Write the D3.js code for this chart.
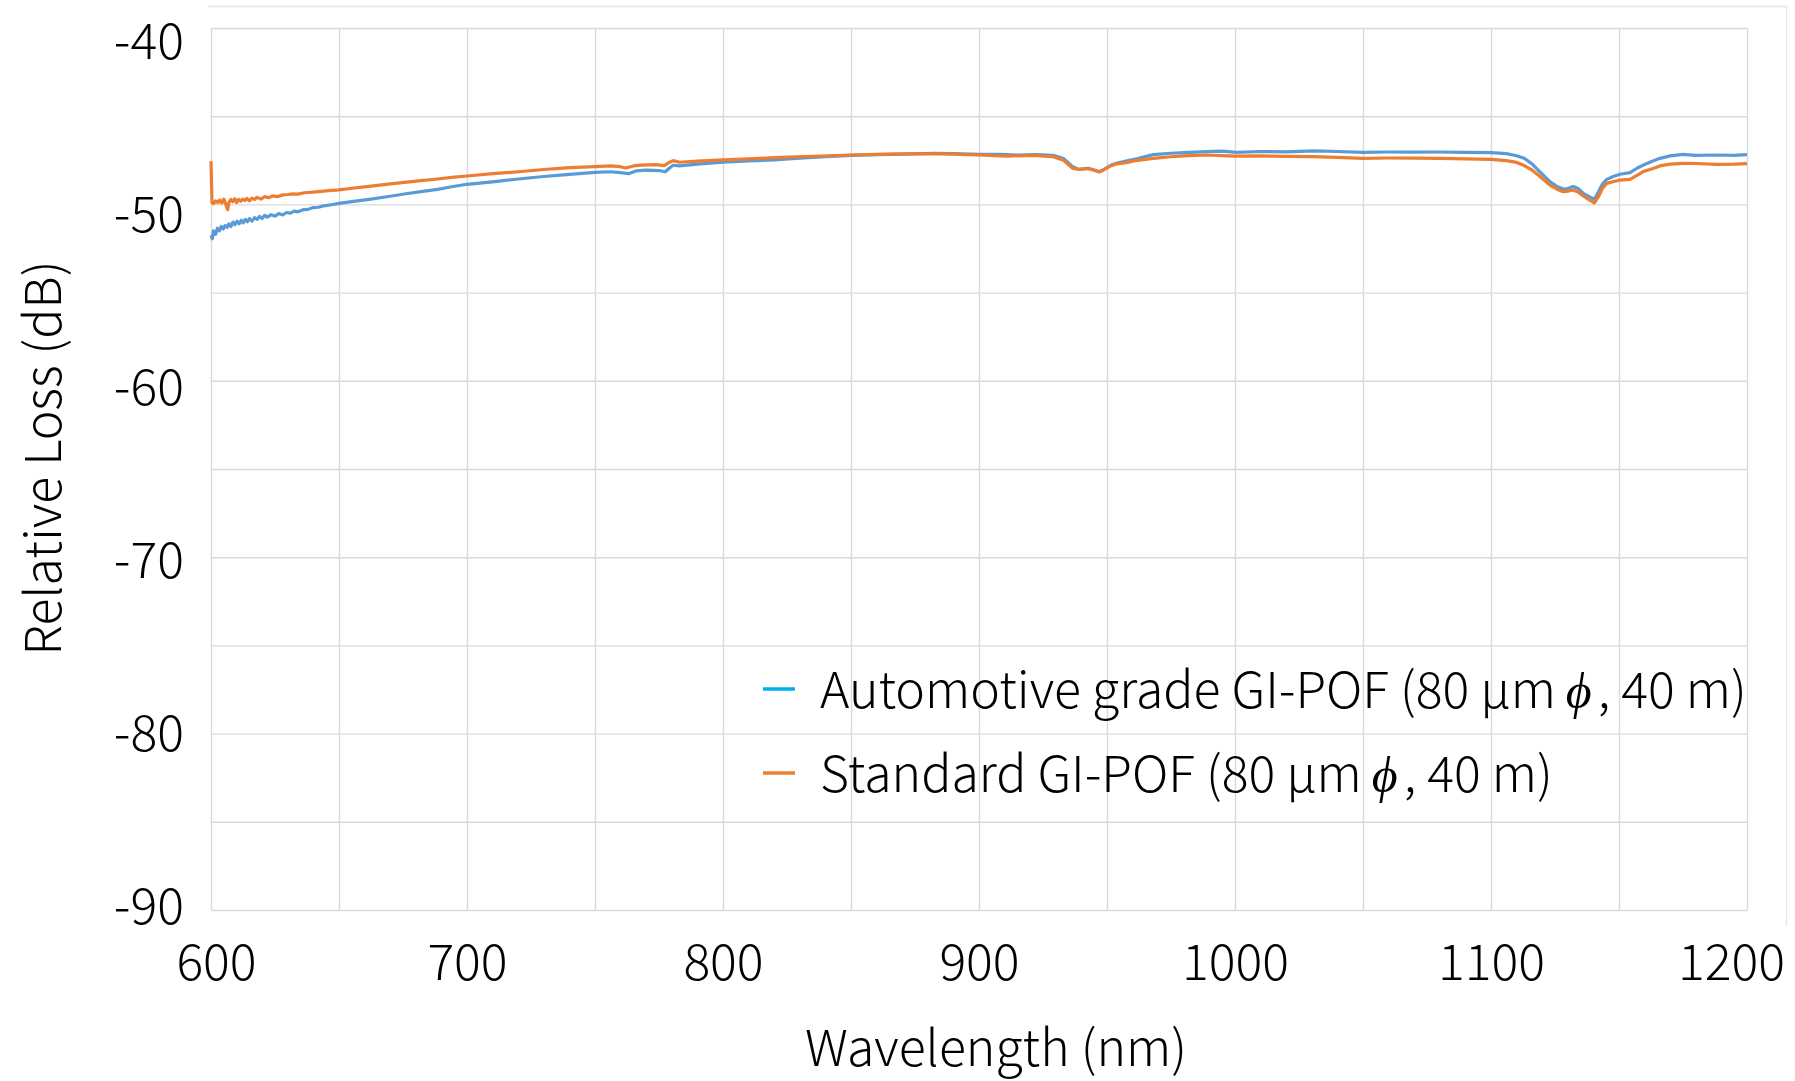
<!DOCTYPE html>
<html>
<head>
<meta charset="utf-8">
<script src="https://cdn.jsdelivr.net/npm/d3@7"></script>
<style>
  html, body { margin: 0; padding: 0; background: #fff; }
  svg { display: block; }
  text { font-family: "Noto Sans CJK JP", "Noto Sans", sans-serif; font-weight: 300; fill: #000; }
</style>
</head>
<body>
<svg id="chart" width="1795" height="1081"></svg>
<script>
// ---------- DATA ----------
const xTicks = [600, 700, 800, 900, 1000, 1100, 1200];
const yTicks = [-40, -50, -60, -70, -80, -90];
const seriesNames = [
  "Automotive grade GI-POF (80 μmϕ, 40 m)",
  "Standard GI-POF (80 μmϕ, 40 m)"
];

const autoWl = [600,600.5,601,601.8,602.5,603.3,604,604.8,605.5,606.3,607,607.8,608.6,609.4,610.2,611,611.8,612.6,613.4,614.2,615,616,617,618,619,620,621,622,623.5,625,626.5,628,629.5,631,632.5,634,636,638,640,642,644,647,650,655,662.5,670,675.5,682,688.5,694,700,710,720,730,740,750,756,760,763,766,770,775,777.5,779,780.5,783,790,800,810,820,830,840,850,860,870,883,890,900,908,915,922,929,933,936.6,938.9,942.6,945,947,949,951.6,954,957.4,962,968,975,980,988.9,995,1000.6,1010,1020,1030.8,1040,1050,1060,1070,1080,1090,1100,1106,1110,1113,1116,1119,1123,1126,1128.2,1130,1132.1,1134,1136,1138.4,1140.4,1142,1143.5,1145.2,1148,1150.4,1154.3,1157,1159.5,1163,1166,1170,1175,1180,1188,1195,1200];
const autoDb = [-51.75,-51.95,-51.5,-51.7,-51.35,-51.5,-51.25,-51.4,-51.2,-51.3,-51.1,-51.25,-51.0,-51.15,-50.95,-51.1,-50.9,-51.05,-50.85,-50.98,-50.8,-50.95,-50.75,-50.85,-50.68,-50.8,-50.62,-50.72,-50.58,-50.66,-50.52,-50.6,-50.46,-50.5,-50.38,-50.42,-50.3,-50.28,-50.18,-50.16,-50.08,-50.02,-49.94,-49.84,-49.7,-49.54,-49.41,-49.28,-49.15,-49.0,-48.86,-48.72,-48.56,-48.42,-48.3,-48.18,-48.15,-48.2,-48.26,-48.1,-48.06,-48.08,-48.15,-47.95,-47.78,-47.82,-47.72,-47.61,-47.54,-47.48,-47.38,-47.3,-47.22,-47.18,-47.15,-47.1,-47.12,-47.16,-47.16,-47.2,-47.18,-47.22,-47.4,-47.86,-48.01,-47.96,-48.05,-48.14,-48.0,-47.77,-47.65,-47.54,-47.4,-47.18,-47.1,-47.06,-47.01,-46.98,-47.05,-47.0,-47.02,-46.97,-47.0,-47.05,-47.03,-47.04,-47.03,-47.05,-47.07,-47.12,-47.24,-47.39,-47.7,-48.14,-48.71,-49.0,-49.13,-49.1,-48.99,-49.1,-49.37,-49.56,-49.71,-49.28,-48.85,-48.58,-48.4,-48.29,-48.2,-47.95,-47.77,-47.55,-47.39,-47.25,-47.16,-47.22,-47.2,-47.22,-47.18];

const stdWl = [600,600.4,601,601.8,602.6,603.4,604.2,605,605.8,606.5,607,607.8,608.5,609.3,610,610.8,611.6,612.4,613.2,614,615,616,617,618,619.5,621,622.5,624,626,628,630,632,634,636.5,640,643,646,650,656,662.5,670,675.5,682,688.5,694,700,710,720,730,740,750,756,759,762,765,768,774,777,779,780.5,783,790,800,810,820,835,850,860,872,885,900,910.8,921,929,933,936.6,939,942.6,945,947,949,951.6,954,957.4,962,968,975,980,989,1000,1010,1020,1030,1040,1050,1060,1070,1080,1090,1100,1106,1110,1113,1116,1119,1123,1126,1128.2,1130,1132.1,1134,1136,1138.4,1140.4,1142,1143.5,1145.2,1148,1150.4,1154.3,1157,1159.5,1163,1166,1170,1175,1180,1188,1195,1200];
const stdDb = [-47.55,-49.9,-49.95,-49.8,-49.9,-49.75,-49.92,-49.7,-50.0,-50.3,-49.9,-49.72,-49.85,-49.68,-49.9,-49.72,-49.82,-49.7,-49.78,-49.66,-49.8,-49.64,-49.72,-49.6,-49.7,-49.56,-49.62,-49.52,-49.56,-49.46,-49.44,-49.4,-49.42,-49.34,-49.3,-49.26,-49.22,-49.18,-49.07,-48.96,-48.84,-48.75,-48.65,-48.56,-48.47,-48.39,-48.26,-48.15,-48.02,-47.92,-47.86,-47.82,-47.84,-47.94,-47.82,-47.77,-47.75,-47.8,-47.62,-47.52,-47.61,-47.55,-47.48,-47.42,-47.35,-47.27,-47.2,-47.16,-47.14,-47.14,-47.2,-47.26,-47.22,-47.3,-47.5,-47.96,-48.02,-47.96,-48.06,-48.16,-48.02,-47.8,-47.7,-47.63,-47.5,-47.39,-47.3,-47.25,-47.2,-47.26,-47.25,-47.28,-47.29,-47.33,-47.39,-47.37,-47.38,-47.39,-47.42,-47.45,-47.52,-47.62,-47.8,-48.05,-48.4,-48.9,-49.15,-49.28,-49.25,-49.18,-49.3,-49.52,-49.75,-49.92,-49.56,-49.1,-48.81,-48.7,-48.62,-48.58,-48.35,-48.14,-47.98,-47.82,-47.72,-47.67,-47.68,-47.73,-47.72,-47.69];

// ---------- LAYOUT ----------
const svg = d3.select("#chart");
const L = 211, T = 28, R = 1747, B = 910;
const FS = 50;
const gridColor = "#D9D9D9";

const x = d3.scaleLinear().domain([600, 1200]).range([L, R]);
const y = d3.scaleLinear().domain([-40, -90]).range([T, B]);
// tick label placement (Excel spaces labels slightly tighter than gridlines)
const yLab = d3.scaleLinear().domain([-40, -90]).range([41, 906]);

// outer chart frame fragments
svg.append("line").attr("x1", 208).attr("x2", 1787).attr("y1", 6.5).attr("y2", 6.5)
  .attr("stroke", "#E6E6E6").attr("stroke-width", 1.3);
svg.append("line").attr("x1", 1786.5).attr("x2", 1786.5).attr("y1", 6.5).attr("y2", 926)
  .attr("stroke", "#E6E6E6").attr("stroke-width", 1.3);

// gridlines
const xGrid = d3.range(600, 1201, 50);
const yGrid = d3.range(-40, -91, -5);
svg.append("g").attr("transform", `translate(0,${B})`)
  .call(d3.axisBottom(x).tickValues(xGrid).tickSize(-(B - T)).tickFormat(""))
  .call(g => g.select(".domain").remove())
  .call(g => g.selectAll("line").attr("stroke", gridColor).attr("stroke-width", 1.4));
svg.append("g").attr("transform", `translate(${L},0)`)
  .call(d3.axisLeft(y).tickValues(yGrid).tickSize(-(R - L)).tickFormat(""))
  .call(g => g.select(".domain").remove())
  .call(g => g.selectAll("line").attr("stroke", gridColor).attr("stroke-width", 1.4));

// y tick labels
svg.append("g").attr("transform", `translate(${L},0)`)
  .call(d3.axisLeft(yLab).tickValues(yTicks).tickSize(0).tickPadding(27).tickFormat(d => String(d)))
  .call(g => g.select(".domain").remove())
  .call(g => g.selectAll("text").attr("font-size", FS).attr("font-family", null).attr("dy", "0.35em"));

// x tick labels
svg.append("g").attr("transform", `translate(0,${B})`)
  .call(d3.axisBottom(x).tickValues(xTicks).tickSize(0).tickPadding(0).tickFormat(d => String(d)))
  .call(g => g.select(".domain").remove())
  .call(g => g.selectAll("text").attr("font-size", FS).attr("font-family", null)
      .attr("y", 70).attr("dy", 0)
      .attr("dx", d => d === 600 ? 5 : (d === 1200 ? -16 : 0)));

// axis titles
svg.append("text").attr("x", 996).attr("y", 1066).attr("text-anchor", "middle")
  .attr("font-size", FS).text("Wavelength (nm)");
svg.append("text").attr("transform", "translate(61,458) rotate(-90)").attr("text-anchor", "middle")
  .attr("font-size", FS).text("Relative Loss (dB)");

// series lines
const line = d3.line().x(d => x(d[0])).y(d => y(d[1]));
const autoData = d3.zip(autoWl, autoDb);
const stdData = d3.zip(stdWl, stdDb);
svg.append("path").datum(autoData).attr("d", line).attr("fill", "none")
  .attr("stroke", "#5B9BD5").attr("stroke-width", 3.2).attr("stroke-linejoin", "round");
svg.append("path").datum(stdData).attr("d", line).attr("fill", "none")
  .attr("stroke", "#ED7D31").attr("stroke-width", 3.2).attr("stroke-linejoin", "round");

// legend
const legend = [
  { name: seriesNames[0], color: "#00B0F0", y: 689 },
  { name: seriesNames[1], color: "#ED7D31", y: 773 }
];
const lg = svg.append("g");
legend.forEach(d => {
  lg.append("line").attr("x1", 763).attr("x2", 795).attr("y1", d.y).attr("y2", d.y)
    .attr("stroke", d.color).attr("stroke-width", 3.5);
  const parts = d.name.split("ϕ");
  const t = lg.append("text").attr("x", 820).attr("y", d.y + 19).attr("font-size", FS);
  t.append("tspan").text(parts[0]);
  t.append("tspan").attr("font-style", "italic").attr("font-family", "Liberation Serif")
    .attr("font-weight", 400).attr("dx", 10).text("ϕ");
  t.append("tspan").attr("dx", 6).text(parts[1]);
});
</script>
</body>
</html>
